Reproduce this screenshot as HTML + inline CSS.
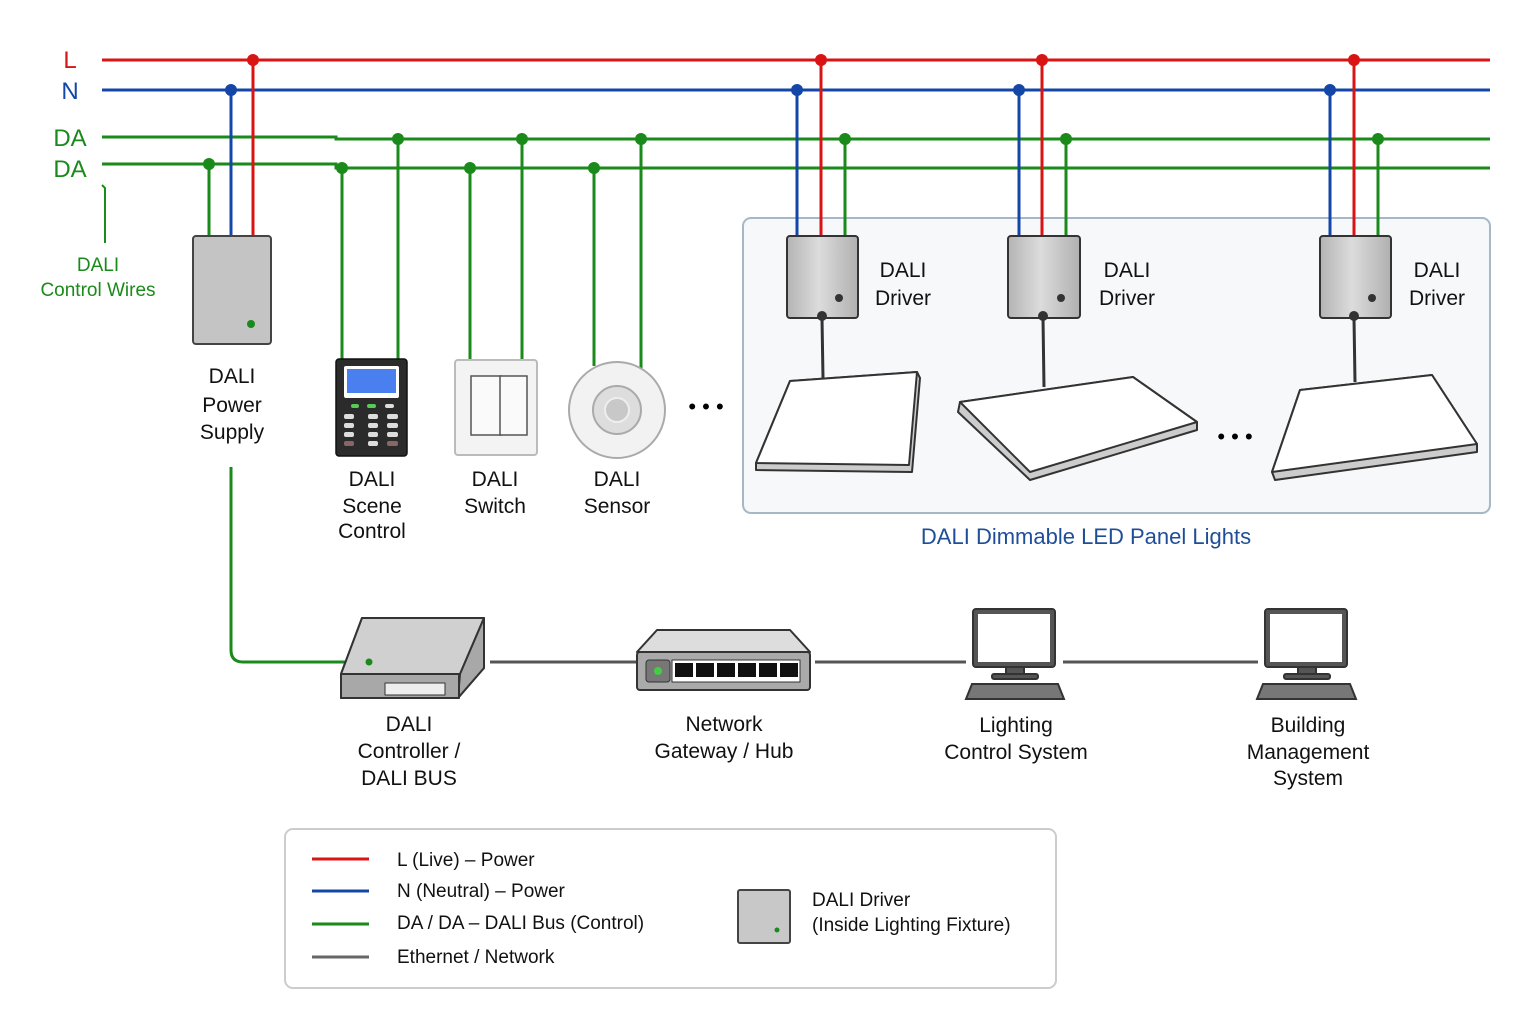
<!DOCTYPE html>
<html><head><meta charset="utf-8"><style>
html,body{margin:0;padding:0;background:#fff;}
svg{display:block;font-family:"Liberation Sans",sans-serif;}
</style></head><body>
<svg width="1536" height="1024" viewBox="0 0 1536 1024" xmlns="http://www.w3.org/2000/svg">
<defs>
<linearGradient id="drv" x1="0" x2="1"><stop offset="0" stop-color="#b4b4b4"/><stop offset="0.45" stop-color="#dcdcdc"/><stop offset="1" stop-color="#b0b0b0"/></linearGradient>
</defs>
<rect width="1536" height="1024" fill="#fff"/>
<!-- panel box -->
<rect x="743" y="218" width="747" height="295" rx="8" fill="#f6f8fa" stroke="#a6b8c8" stroke-width="2"/>
<!-- bus lines -->
<line x1="102" y1="60" x2="1490" y2="60" stroke="#d81414" stroke-width="3"/>
<line x1="102" y1="90" x2="1490" y2="90" stroke="#1446a8" stroke-width="3"/>
<polyline points="102,137 336,137 336,139 1490,139" fill="none" stroke="#1a8a1a" stroke-width="3"/>
<polyline points="102,164 336,164 336,168 1490,168" fill="none" stroke="#1a8a1a" stroke-width="3"/>
<g font-size="24" font-weight="normal">
<text x="70" y="68" fill="#d81414" text-anchor="middle">L</text>
<text x="70" y="99" fill="#1446a8" text-anchor="middle">N</text>
<text x="70" y="146" fill="#1a8a1a" text-anchor="middle">DA</text>
<text x="70" y="177" fill="#1a8a1a" text-anchor="middle">DA</text>
</g>
<polyline points="102,185 105,188 105,243" fill="none" stroke="#1a8a1a" stroke-width="2"/>
<text x="98" y="271" font-size="19" fill="#1a8a1a" text-anchor="middle">DALI</text>
<text x="98" y="296" font-size="19" fill="#1a8a1a" text-anchor="middle">Control Wires</text>

<!-- drops -->
<g stroke-width="3" fill="none">
<line x1="209" y1="164" x2="209" y2="236" stroke="#1a8a1a"/>
<line x1="231" y1="90" x2="231" y2="236" stroke="#1446a8"/>
<line x1="253" y1="60" x2="253" y2="236" stroke="#d81414"/>
<line x1="342" y1="168" x2="342" y2="360" stroke="#1a8a1a"/>
<line x1="398" y1="139" x2="398" y2="360" stroke="#1a8a1a"/>
<line x1="470" y1="168" x2="470" y2="360" stroke="#1a8a1a"/>
<line x1="522" y1="139" x2="522" y2="360" stroke="#1a8a1a"/>
<line x1="594" y1="168" x2="594" y2="366" stroke="#1a8a1a"/>
<line x1="641" y1="139" x2="641" y2="370" stroke="#1a8a1a"/>
<line x1="797" y1="90" x2="797" y2="236" stroke="#1446a8"/>
<line x1="821" y1="60" x2="821" y2="236" stroke="#d81414"/>
<line x1="845" y1="139" x2="845" y2="236" stroke="#1a8a1a"/>
<line x1="1019" y1="90" x2="1019" y2="236" stroke="#1446a8"/>
<line x1="1042" y1="60" x2="1042" y2="236" stroke="#d81414"/>
<line x1="1066" y1="139" x2="1066" y2="236" stroke="#1a8a1a"/>
<line x1="1330" y1="90" x2="1330" y2="236" stroke="#1446a8"/>
<line x1="1354" y1="60" x2="1354" y2="236" stroke="#d81414"/>
<line x1="1378" y1="139" x2="1378" y2="236" stroke="#1a8a1a"/>
<path d="M231,467 V650 Q231,662 243,662 H345" stroke="#1a8a1a"/>
</g>
<g>
<circle cx="253" cy="60" r="6" fill="#d81414"/><circle cx="821" cy="60" r="6" fill="#d81414"/><circle cx="1042" cy="60" r="6" fill="#d81414"/><circle cx="1354" cy="60" r="6" fill="#d81414"/>
<circle cx="231" cy="90" r="6" fill="#1446a8"/><circle cx="797" cy="90" r="6" fill="#1446a8"/><circle cx="1019" cy="90" r="6" fill="#1446a8"/><circle cx="1330" cy="90" r="6" fill="#1446a8"/>
<g fill="#1a8a1a">
<circle cx="398" cy="139" r="6"/><circle cx="522" cy="139" r="6"/><circle cx="641" cy="139" r="6"/><circle cx="845" cy="139" r="6"/><circle cx="1066" cy="139" r="6"/><circle cx="1378" cy="139" r="6"/>
<circle cx="209" cy="164" r="6"/><circle cx="342" cy="168" r="6"/><circle cx="470" cy="168" r="6"/><circle cx="594" cy="168" r="6"/>
</g>
</g>

<!-- power supply -->
<rect x="193" y="236" width="78" height="108" rx="3" fill="#c4c4c4" stroke="#444" stroke-width="2"/>
<circle cx="251" cy="324" r="4" fill="#1a8a1a"/>
<g font-size="21" fill="#111" text-anchor="middle">
<text x="232" y="383">DALI</text><text x="232" y="412">Power</text><text x="232" y="439">Supply</text>
</g>

<!-- scene control -->
<rect x="336" y="359" width="71" height="97" rx="3" fill="#2b2b2b" stroke="#111" stroke-width="1.5"/>
<rect x="344" y="366" width="55" height="32" rx="2" fill="#fff"/>
<rect x="347" y="369" width="49" height="24" fill="#4a7ff0"/>
<g fill="#ddd">
<rect x="351" y="404" width="8" height="4" rx="2" fill="#5c5"/><rect x="367" y="404" width="9" height="4" rx="2" fill="#5c5"/><rect x="385" y="404" width="9" height="4" rx="2"/>
<rect x="344" y="414" width="10" height="5" rx="2"/><rect x="368" y="414" width="10" height="5" rx="2"/><rect x="387" y="414" width="11" height="5" rx="2"/>
<rect x="344" y="423" width="10" height="5" rx="2"/><rect x="368" y="423" width="10" height="5" rx="2"/><rect x="387" y="423" width="11" height="5" rx="2"/>
<rect x="344" y="432" width="10" height="5" rx="2"/><rect x="368" y="432" width="10" height="5" rx="2"/><rect x="387" y="432" width="11" height="5" rx="2"/>
<rect x="344" y="441" width="10" height="5" rx="2" fill="#866"/><rect x="368" y="441" width="10" height="5" rx="2"/><rect x="387" y="441" width="11" height="5" rx="2" fill="#866"/>
</g>
<!-- switch -->
<rect x="455" y="360" width="82" height="95" rx="3" fill="#f3f3f3" stroke="#bbb" stroke-width="2"/>
<rect x="471" y="376" width="30" height="59" fill="#fafafa" stroke="#555" stroke-width="1.5"/>
<rect x="500" y="376" width="27" height="59" fill="#fafafa" stroke="#555" stroke-width="1.5"/>
<!-- sensor -->
<circle cx="617" cy="410" r="48" fill="#f2f2f2" stroke="#aaa" stroke-width="2"/>
<circle cx="617" cy="410" r="24" fill="#ddd" stroke="#aaa" stroke-width="2"/>
<circle cx="617" cy="410" r="12" fill="#c8c8c8" stroke="#eee" stroke-width="2"/>
<text x="706" y="414" font-size="22" text-anchor="middle">• • •</text>
<g font-size="21" fill="#111" text-anchor="middle">
<text x="372" y="486">DALI</text><text x="372" y="513">Scene</text><text x="372" y="538">Control</text>
<text x="495" y="486">DALI</text><text x="495" y="513">Switch</text>
<text x="617" y="486">DALI</text><text x="617" y="513">Sensor</text>
</g>

<!-- drivers -->
<g stroke="#333" stroke-width="2">
<rect x="787" y="236" width="71" height="82" rx="3" fill="url(#drv)"/>
<rect x="1008" y="236" width="72" height="82" rx="3" fill="url(#drv)"/>
<rect x="1320" y="236" width="71" height="82" rx="3" fill="url(#drv)"/>
</g>
<g fill="#333"><circle cx="839" cy="298" r="4"/><circle cx="1061" cy="298" r="4"/><circle cx="1372" cy="298" r="4"/></g>
<g stroke="#333" stroke-width="3">
<line x1="822" y1="318" x2="823" y2="378"/><line x1="1043" y1="318" x2="1044" y2="387"/><line x1="1354" y1="318" x2="1355" y2="382"/>
</g>
<g fill="#333"><circle cx="822" cy="316" r="5"/><circle cx="1043" cy="316" r="5"/><circle cx="1354" cy="316" r="5"/></g>
<g font-size="21" fill="#111" text-anchor="middle">
<text x="903" y="277">DALI</text><text x="903" y="305">Driver</text>
<text x="1127" y="277">DALI</text><text x="1127" y="305">Driver</text>
<text x="1437" y="277">DALI</text><text x="1437" y="305">Driver</text>
</g>
<!-- panels -->
<g stroke="#333" stroke-width="2" stroke-linejoin="round">
<polygon points="790,381 917,372 920,378 912,472 756,470 756,463" fill="#ccc"/>
<polygon points="790,381 917,372 909,465 756,463" fill="#fff"/>
<polygon points="960,402 1133,377 1197,422 1197,430 1030,480 958,412" fill="#ccc"/>
<polygon points="960,402 1133,377 1197,422 1030,472" fill="#fff"/>
<polygon points="1300,390 1432,375 1477,444 1477,452 1275,480 1272,472" fill="#ccc"/>
<polygon points="1300,390 1432,375 1477,444 1272,472" fill="#fff"/>
</g>
<text x="1235" y="444" font-size="22" text-anchor="middle">• • •</text>
<text x="1086" y="544" font-size="22" fill="#1f4e99" text-anchor="middle">DALI Dimmable LED Panel Lights</text>

<!-- network lines -->
<g stroke="#555" stroke-width="3">
<line x1="490" y1="662" x2="637" y2="662"/>
<line x1="815" y1="662" x2="966" y2="662"/>
<line x1="1063" y1="662" x2="1258" y2="662"/>
</g>
<!-- controller -->
<g stroke="#333" stroke-width="2" stroke-linejoin="round">
<polygon points="362,618 484,618 484,668 458,698 341,698 341,674" fill="#bdbdbd"/>
<polygon points="362,618 484,618 460,674 341,674" fill="#d0d0d0"/>
<polygon points="460,674 484,618 484,668 458,698" fill="#a8a8a8"/>
<rect x="341" y="674" width="118" height="24" fill="#a8a8a8"/>
<rect x="385" y="683" width="60" height="12" fill="#eee" stroke-width="1"/>
</g>
<circle cx="369" cy="662" r="3.5" fill="#1a8a1a"/>
<!-- hub -->
<g stroke="#333" stroke-width="2" stroke-linejoin="round">
<polygon points="657,630 790,630 810,652 637,652" fill="#ddd"/>
<rect x="637" y="652" width="173" height="38" rx="3" fill="#aaa"/>
<rect x="646" y="660" width="24" height="22" rx="3" fill="#777" stroke-width="1"/>
<rect x="672" y="660" width="128" height="22" fill="#fff" stroke-width="1"/>
</g>
<circle cx="658" cy="671" r="4" fill="#4c4"/>
<g fill="#111">
<rect x="675" y="663" width="18" height="14"/><rect x="696" y="663" width="18" height="14"/><rect x="717" y="663" width="18" height="14"/><rect x="738" y="663" width="18" height="14"/><rect x="759" y="663" width="18" height="14"/><rect x="780" y="663" width="18" height="14"/>
</g>
<!-- monitors -->
<g stroke="#333" stroke-width="2">
<rect x="973" y="609" width="82" height="58" rx="3" fill="#555"/><rect x="978" y="614" width="72" height="48" fill="#fff" stroke="none"/>
<rect x="1006" y="667" width="18" height="7" fill="#555"/><rect x="992" y="674" width="46" height="5" rx="2" fill="#555"/>
<polygon points="972,684 1058,684 1064,699 966,699" fill="#777"/>
<rect x="1265" y="609" width="82" height="58" rx="3" fill="#555"/><rect x="1270" y="614" width="72" height="48" fill="#fff" stroke="none"/>
<rect x="1298" y="667" width="18" height="7" fill="#555"/><rect x="1284" y="674" width="46" height="5" rx="2" fill="#555"/>
<polygon points="1263,684 1350,684 1356,699 1257,699" fill="#777"/>
</g>
<g font-size="21" fill="#111" text-anchor="middle">
<text x="409" y="731">DALI</text><text x="409" y="758">Controller /</text><text x="409" y="785">DALI BUS</text>
<text x="724" y="731">Network</text><text x="724" y="758">Gateway / Hub</text>
<text x="1016" y="732">Lighting</text><text x="1016" y="759">Control System</text>
<text x="1308" y="732">Building</text><text x="1308" y="759">Management</text><text x="1308" y="785">System</text>
</g>

<!-- legend -->
<rect x="285" y="829" width="771" height="159" rx="8" fill="#fff" stroke="#ccc" stroke-width="2"/>
<g stroke-width="3">
<line x1="312" y1="859" x2="369" y2="859" stroke="#d81414"/>
<line x1="312" y1="891" x2="369" y2="891" stroke="#1446a8"/>
<line x1="312" y1="924" x2="369" y2="924" stroke="#1a8a1a"/>
<line x1="312" y1="957" x2="369" y2="957" stroke="#666"/>
</g>
<g font-size="19" fill="#111">
<text x="397" y="866">L (Live) – Power</text>
<text x="397" y="897">N (Neutral) – Power</text>
<text x="397" y="929">DA / DA – DALI Bus (Control)</text>
<text x="397" y="963">Ethernet / Network</text>
<text x="812" y="906">DALI Driver</text>
<text x="812" y="931">(Inside Lighting Fixture)</text>
</g>
<rect x="738" y="890" width="52" height="53" rx="2" fill="#c8c8c8" stroke="#444" stroke-width="2"/>
<circle cx="777" cy="930" r="2.5" fill="#1a8a1a"/>
</svg>
</body></html>
